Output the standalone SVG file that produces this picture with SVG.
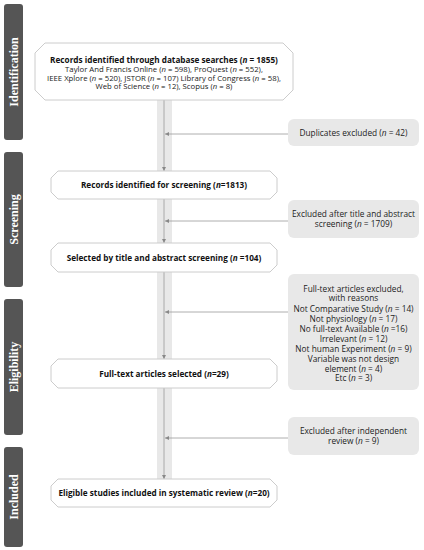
<svg xmlns="http://www.w3.org/2000/svg" width="424" height="550" viewBox="0 0 424 550">
<style>
.bar{fill:#555555}
.bl{font-family:"Liberation Serif","Times New Roman",serif;font-weight:bold;font-size:12px;fill:#ffffff;text-anchor:middle}
.mb{fill:#ffffff;stroke:#cccccc;stroke-width:1}
.rb{fill:#e8e8e8}
.t{font-family:"Open Sans","Noto Sans",sans-serif;font-size:7.75px;fill:#222222;text-anchor:middle}
.r{font-family:"Open Sans","Noto Sans",sans-serif;font-size:8.3px;fill:#222222;text-anchor:middle}
.b{font-family:"Open Sans","Noto Sans",sans-serif;font-size:8.2px;font-weight:bold;fill:#111111;text-anchor:middle}
.i{font-style:italic}
.ln{stroke:#999999;stroke-width:0.8;fill:none}
</style>
<defs>
<marker id="ah" viewBox="0 0 6 6" refX="6" refY="3" markerWidth="4" markerHeight="4" orient="auto" markerUnits="userSpaceOnUse">
<path d="M0,0 L6,3 L0,6 z" fill="#888888"/>
</marker>
</defs>
<rect width="424" height="550" fill="#ffffff"/>
<g id="phases">
<g id="phase-identification"><rect class="bar" x="4" y="4" width="19" height="136" rx="3"/><text class="bl" transform="translate(18,72) rotate(-90)">Identification</text></g>
<g id="phase-screening"><rect class="bar" x="4" y="152" width="19" height="135" rx="3"/><text class="bl" transform="translate(18,219.5) rotate(-90)">Screening</text></g>
<g id="phase-eligibility"><rect class="bar" x="4" y="299" width="19" height="136" rx="3"/><text class="bl" transform="translate(18,367) rotate(-90)">Eligibility</text></g>
<g id="phase-included"><rect class="bar" x="4" y="447" width="19" height="100" rx="3"/><text class="bl" transform="translate(18,497) rotate(-90)">Included</text></g>
</g>
<rect id="band" x="157" y="100" width="15" height="379" fill="#e8e8e8"/>
<g id="connectors">
<line class="ln" x1="164" y1="100" x2="164" y2="171" marker-end="url(#ah)"/>
<line class="ln" x1="164" y1="199" x2="164" y2="243" marker-end="url(#ah)"/>
<line class="ln" x1="164" y1="272" x2="164" y2="359" marker-end="url(#ah)"/>
<line class="ln" x1="164" y1="388" x2="164" y2="479" marker-end="url(#ah)"/>
<line class="ln" x1="288" y1="134" x2="165" y2="134" marker-end="url(#ah)"/>
<line class="ln" x1="288" y1="221" x2="165" y2="221" marker-end="url(#ah)"/>
<line class="ln" x1="288" y1="312" x2="165" y2="312" marker-end="url(#ah)"/>
<line class="ln" x1="288" y1="438" x2="165" y2="438" marker-end="url(#ah)"/>
</g>
<g id="n1">
<polygon class="mb" points="45,43 283,43 293,53 293,90 283,100 45,100 35,90 35,53"/>
<text class="b" x="164" y="63">Records identified through database searches (<tspan class="i">n</tspan> = 1855)</text>
<text class="t" x="164" y="72">Taylor And Francis Online (<tspan class="i">n</tspan> = 598), ProQuest (<tspan class="i">n</tspan> = 552),</text>
<text class="t" x="164" y="80.5">IEEE Xplore (<tspan class="i">n</tspan> = 520), JSTOR (<tspan class="i">n</tspan> = 107) Library of Congress (<tspan class="i">n</tspan> = 58),</text>
<text class="t" x="164" y="89">Web of Science (<tspan class="i">n</tspan> = 12), Scopus (<tspan class="i">n</tspan> = 8)</text>
</g>
<g id="n2">
<polygon class="mb" points="58,171 270,171 277,178 277,192 270,199 58,199 51,192 51,178"/>
<text class="b" x="164" y="188">Records identified for screening (<tspan class="i">n</tspan>=1813)</text>
</g>
<g id="n3">
<polygon class="mb" points="58,243 270,243 277,250 277,265 270,272 58,272 51,265 51,250"/>
<text class="b" x="164" y="260.5">Selected by title and abstract screening (<tspan class="i">n</tspan> =104)</text>
</g>
<g id="n4">
<polygon class="mb" points="58,359 270,359 277,366 277,381 270,388 58,388 51,381 51,366"/>
<text class="b" x="164" y="376.5">Full-text articles selected (<tspan class="i">n</tspan>=29)</text>
</g>
<g id="n5">
<polygon class="mb" points="58,479 270,479 277,486 277,500 270,507 58,507 51,500 51,486"/>
<text class="b" x="164" y="496">Eligible studies included in systematic review (<tspan class="i">n</tspan>=20)</text>
</g>
<g id="r1">
<rect class="rb" x="288" y="119" width="131" height="27" rx="6"/>
<text class="r" x="353.5" y="135.5">Duplicates excluded (<tspan class="i">n</tspan> = 42)</text>
</g>
<g id="r2">
<rect class="rb" x="288" y="200" width="131" height="38" rx="6"/>
<text class="r" x="353.5" y="217">Excluded after title and abstract</text>
<text class="r" x="353.5" y="227">screening (<tspan class="i">n</tspan> = 1709)</text>
</g>
<g id="r3">
<rect class="rb" x="288" y="274" width="131" height="116" rx="6"/>
<text class="r" x="353.5" y="291.5">Full-text articles excluded,</text>
<text class="r" x="353.5" y="301">with reasons</text>
<text class="r" x="353.5" y="311.5">Not Comparative Study (<tspan class="i">n</tspan> = 14)</text>
<text class="r" x="353.5" y="321.5">Not physiology (<tspan class="i">n</tspan> = 17)</text>
<text class="r" x="353.5" y="331.5">No full-text Available (<tspan class="i">n</tspan> =16)</text>
<text class="r" x="353.5" y="341.5">Irrelevant (<tspan class="i">n</tspan> = 12)</text>
<text class="r" x="353.5" y="352">Not human Experiment (<tspan class="i">n</tspan> = 9)</text>
<text class="r" x="353.5" y="361.5">Variable was not design</text>
<text class="r" x="353.5" y="371.5">element (<tspan class="i">n</tspan> = 4)</text>
<text class="r" x="353.5" y="381">Etc (<tspan class="i">n</tspan> = 3)</text>
</g>
<g id="r4">
<rect class="rb" x="288" y="417" width="131" height="38" rx="6"/>
<text class="r" x="353.5" y="434">Excluded after independent</text>
<text class="r" x="353.5" y="444">review (<tspan class="i">n</tspan> = 9)</text>
</g>
</svg>
